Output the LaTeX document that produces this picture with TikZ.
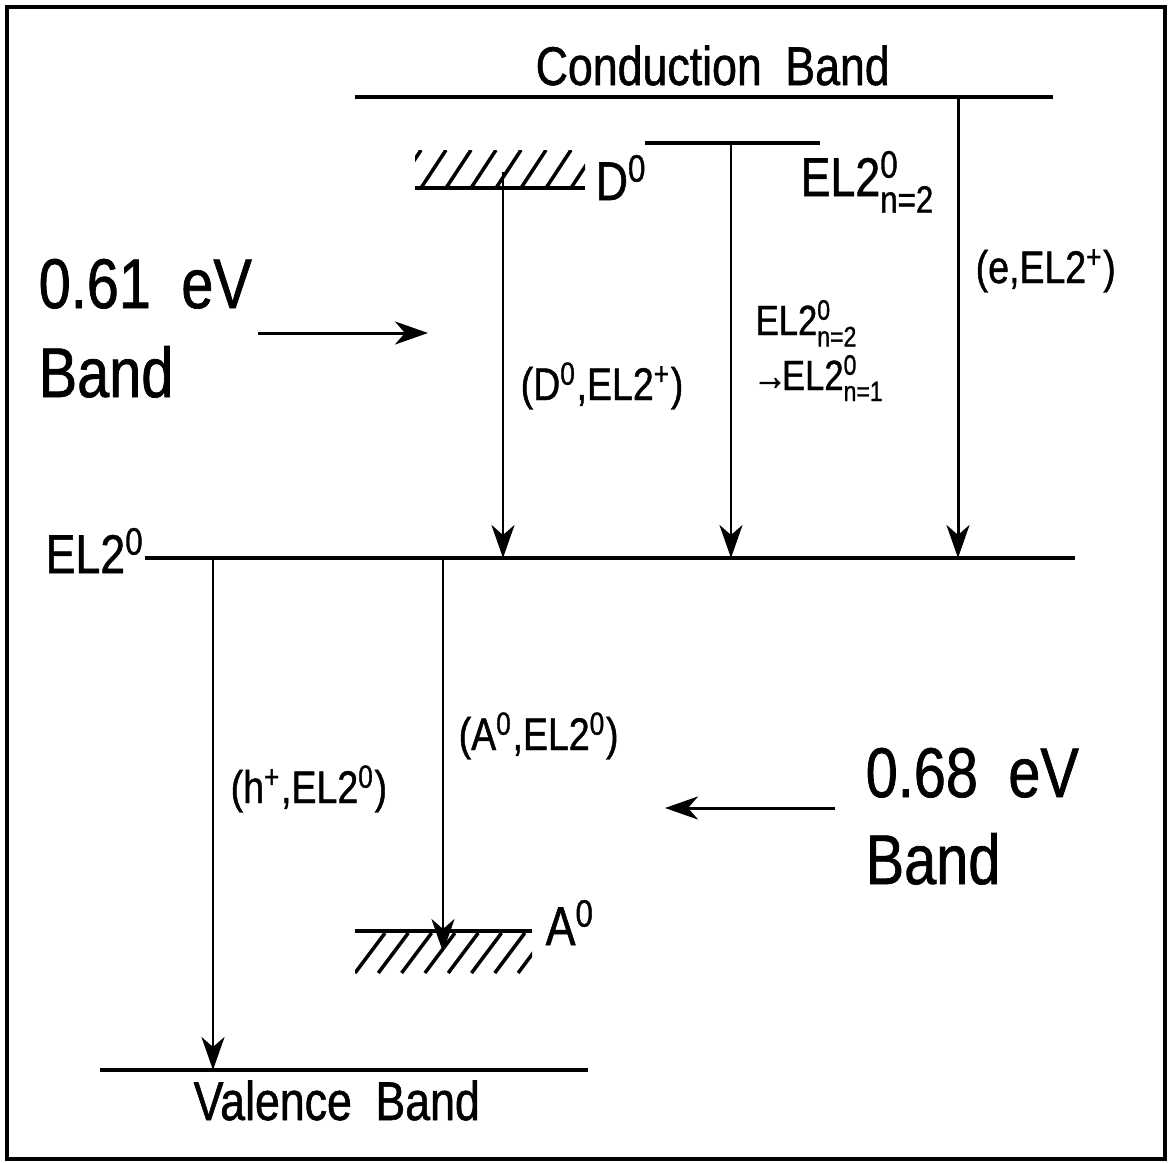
\documentclass[tikz,border=0pt]{standalone}
\usepackage{amsmath}
\usepackage{fontspec}
\setmainfont[FakeStretch=0.82, WordSpace=1.9, FakeBold=1]{Liberation Sans}
\usepackage{tikz}
\usetikzlibrary{arrows.meta}

\begin{document}
\begin{tikzpicture}[
  x=0.01cm, y=-0.01cm,
  frame/.style={line width=1.2pt},
  level/.style={line width=1.1pt},
  hatchline/.style={line width=1pt},
  trans/.style={line width=0.85pt, -{Stealth[length=3.3mm, width=2.3mm, inset=1mm]}},
  lbl/.style={inner sep=0pt, anchor=base west},
  small/.style={lbl, font=\fontsize{13}{15}\selectfont},
  tiny/.style={lbl, font=\fontsize{12}{14}\selectfont},
  mid/.style={lbl, font=\fontsize{15.5}{18}\selectfont},
  big/.style={lbl, font=\fontsize{20}{24}\selectfont}
]
\useasboundingbox (0,0) rectangle (1169,1163);
\draw[frame] (7,7) rectangle (1165,1159);

\coordinate (cbL) at (355,97);  \coordinate (cbR) at (1053,97);
\coordinate (dL) at (415,188);  \coordinate (dR) at (585,188);
\coordinate (nL) at (645,143);  \coordinate (nR) at (820,143);
\coordinate (elL) at (145,558); \coordinate (elR) at (1075,558);
\coordinate (aL) at (355,931);  \coordinate (aR) at (532,931);
\coordinate (vbL) at (100,1070); \coordinate (vbR) at (588,1070);

\foreach \a/\b in {cbL/cbR, dL/dR, nL/nR, elL/elR, aL/aR, vbL/vbR}
  \draw[level] (\a) -- (\b);

\begin{scope}
  \clip (415,150) rectangle (dR);
  \foreach \i in {0,...,7} \draw[hatchline] (396+\i*25,188) -- ++(25,-38);
\end{scope}
\begin{scope}
  \clip (aL) rectangle (532,975);
  \foreach \i in {0,...,7} \draw[hatchline] (355+\i*23.3,973) -- ++(30,-40);
\end{scope}

\coordinate (dT) at (503,172);
\coordinate (nT) at (731,143);
\coordinate (cT) at (958,97);
\coordinate (hT) at (213,558);
\coordinate (aT) at (443,558);
\coordinate (aB) at (443,952);
\draw[trans] (dT) -- (dT |- elL);
\draw[trans] (nT) -- (nT |- elL);
\draw[trans] (cT) -- (cT |- elL);
\draw[trans] (hT) -- (hT |- vbL);
\draw[trans] (aT) -- (aB);

\coordinate (r1) at (258,333); \coordinate (r2) at (428,333);
\coordinate (l1) at (835,808); \coordinate (l2) at (665,808);
\draw[trans] (r1) -- (r2);
\draw[trans] (l1) -- (l2);

\node[mid] (cbLab) at (535,85) {Conduction Band};
\node[mid] (vbLab) at (193,1120) {Valence Band};
\node[mid] (elLab) at (45,573) {EL2$^{\text{0}}$};
\node[mid] (dLab) at (595,200) {D$^{\text{0}}$};
\node[mid] (nLab) at (800,196) {EL2$^{\text{0}}_{\text{n=2}}$};
\node[mid] (aLab) at (545,945) {A$^{\text{0}}$};

\node[small] (dTr) at (520,400) {(D$^{\text{0}}$,EL2$^{\text{+}}$)};
\node[tiny] (nTr1) at (755,335) {EL2$^{\text{0}}_{\text{n=2}}$};
\node[tiny] (nTr2) at (752,390) {→\kern-1.5pt EL2$^{\text{0}}_{\text{n=1}}$};
\node[small] (cTr) at (975,283) {(e,EL2$^{\text{+}}$)};
\node[small] (hTr) at (230,803) {(h$^{\text{+}}$,EL2$^{\text{0}}$)};
\node[small] (aTr) at (458,750) {(A$^{\text{0}}$,EL2$^{\text{0}}$)};

\node[big] (b61) at (38,308) {0.61 eV};
\node[big] (b61b) at (38,397) {Band};
\node[big] (b68) at (865,797) {0.68 eV};
\node[big] (b68b) at (865,884) {Band};
\end{tikzpicture}
\end{document}
